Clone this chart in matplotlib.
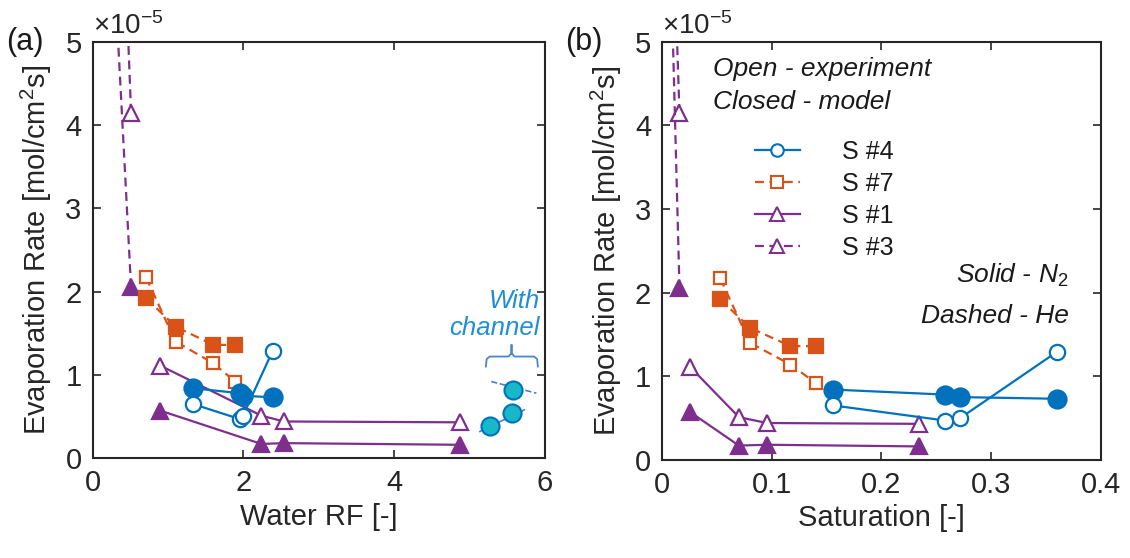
import numpy as np
import matplotlib.pyplot as plt
from matplotlib.lines import Line2D

plt.rcParams['font.family'] = ['Liberation Sans', 'DejaVu Sans']
plt.rcParams['mathtext.fontset'] = 'custom'
plt.rcParams['mathtext.rm'] = 'Liberation Sans'
plt.rcParams['mathtext.it'] = 'Liberation Sans:italic'

# sample data: y values are shared by both panels (x1e-5 mol/cm2s)
s4_exp_y = [0.65, 0.47, 0.50, 1.29]
s4_mod_y = [0.84, 0.78, 0.75, 0.73]
s7_exp_y = [2.17, 1.40, 1.14, 0.92]
s7_mod_y = [1.92, 1.58, 1.36, 1.36]
s1_exp_y = [1.11, 0.51, 0.44, 0.43]
s1_mod_y = [0.57, 0.17, 0.18, 0.16]
s3_exp_y = [4.15, 6.0]
s3_mod_y = [2.05, 6.0]

# water RF (panel a)
s4_rf = [1.33, 1.95, 1.99, 2.39]
s7_rf = [0.71, 1.10, 1.60, 1.89]
s1_rf = [0.90, 2.24, 2.54, 4.88]
s3_exp_rf = [0.51, 0.43]
s3_mod_rf = [0.51, 0.28]

# saturation (panel b)
s4_sat = [0.156, 0.258, 0.272, 0.360]
s7_sat = [0.053, 0.080, 0.117, 0.140]
s1_sat = [0.0256, 0.070, 0.0956, 0.234]
s3_exp_sat = [0.0158, 0.011]
s3_mod_sat = [0.0158, 0.0078]

# with channel points (panel a)
ch_x = [5.27, 5.56, 5.58]
ch_y = [0.38, 0.54, 0.82]
ch_solid_x = [5.14, 5.73]
ch_solid_y = [0.32, 0.58]
ch_dash_x = [5.29, 5.89]
ch_dash_y = [0.92, 0.78]

blue = '#0072BD'
orange = '#D95319'
purple = '#7E2F8E'
cyan = '#19B8C8'
axcol = '#262626'

fig = plt.figure(figsize=(11.3, 5.58), dpi=100)
ax1 = fig.add_axes([0.082, 0.179, 0.400, 0.746])
ax2 = fig.add_axes([0.586, 0.176, 0.388, 0.749])

lw = 1.6
dash = (4, 2.5)


def draw(ax, x4, x7, x1, x3e, x3m):
    ax.plot(x3e, s3_exp_y, '--^', color=purple, mfc='white', ms=11, mew=1.6, lw=lw, dashes=dash)
    ax.plot(x3m, s3_mod_y, '--^', color=purple, mfc=purple, ms=12, mew=1.6, lw=lw, dashes=dash)
    ax.plot(x1, s1_exp_y, '-^', color=purple, mfc='white', ms=11, mew=1.6, lw=lw)
    ax.plot(x1, s1_mod_y, '-^', color=purple, mfc=purple, ms=12, mew=1.6, lw=lw)
    ax.plot(x7, s7_exp_y, '--s', color=orange, mfc='white', ms=9, mew=1.6, lw=lw, dashes=dash)
    ax.plot(x7, s7_mod_y, '--s', color=orange, mfc=orange, ms=10, mew=1.6, lw=lw, dashes=dash)
    ax.plot(x4, s4_mod_y, '-o', color=blue, mfc=blue, ms=13, mew=1.6, lw=lw)
    ax.plot(x4, s4_exp_y, '-o', color=blue, mfc='white', ms=11, mew=1.6, lw=lw)
    ax.set_ylim(0, 5)
    ax.set_yticks([0, 1, 2, 3, 4, 5])
    ax.tick_params(direction='in', top=True, right=True, length=6, width=1.2,
                   labelsize=21, colors=axcol, pad=8)
    for sp in ax.spines.values():
        sp.set_linewidth(1.5)
        sp.set_color(axcol)
    ax.set_ylabel('Evaporation Rate [mol/cm$^2$s]', fontsize=21, color=axcol, labelpad=8)
    ax.text(0.0, 1.005, r'$\times$10$^{-5}$', transform=ax.transAxes,
            fontsize=20, color=axcol, ha='left', va='bottom')


draw(ax1, s4_rf, s7_rf, s1_rf, s3_exp_rf, s3_mod_rf)
draw(ax2, s4_sat, s7_sat, s1_sat, s3_exp_sat, s3_mod_sat)

# panel a extras
ax1.set_xlim(0, 6)
ax1.set_xticks([0, 2, 4, 6])
ax1.set_xlabel('Water RF [-]', fontsize=21, color=axcol)
ax1.plot(ch_solid_x, ch_solid_y, '-', color='#4A7FD0', lw=1.2)
ax1.plot(ch_dash_x, ch_dash_y, '--', color='#4A7FD0', lw=1.2)
ax1.plot(ch_x, ch_y, 'o', color=blue, mfc=cyan, ms=13, mew=1.5, ls='none')
brx = [5.22, 5.23, 5.27, 5.52, 5.56, 5.56, 5.56, 5.60, 5.86, 5.90, 5.91]
bry = [1.10, 1.19, 1.22, 1.22, 1.26, 1.36, 1.26, 1.22, 1.22, 1.19, 1.10]
ax1.plot(brx, bry, '-', color='#4A86C8', lw=1.3)
ax1.text(5.94, 1.73, 'With\nchannel', fontsize=18.5, style='italic', color='#1E8FD5',
         ha='right', va='center', ma='right', linespacing=1.15)

# panel b extras
ax2.set_xlim(0, 0.4)
ax2.set_xticks([0, 0.1, 0.2, 0.3, 0.4])
ax2.set_xticklabels(['0', '0.1', '0.2', '0.3', '0.4'])
ax2.set_xlabel('Saturation [-]', fontsize=21, color=axcol)
ax2.text(0.0465, 4.68, 'Open - experiment', fontsize=19, style='italic', color='#1a1a1a',
         ha='left', va='center')
ax2.text(0.0465, 4.28, 'Closed - model', fontsize=19, style='italic', color='#1a1a1a',
         ha='left', va='center')
ax2.text(0.371, 2.20, 'Solid - N$_2$', fontsize=19, style='italic', color='#1a1a1a',
         ha='right', va='center')
ax2.text(0.371, 1.72, 'Dashed - He', fontsize=19, style='italic', color='#1a1a1a',
         ha='right', va='center')

handles = [
    Line2D([], [], color=blue, ls='-', marker='o', mfc='white', ms=9, mew=1.5, lw=lw),
    Line2D([], [], color=orange, ls='--', marker='s', mfc='white', ms=8, mew=1.5, lw=lw, dashes=dash),
    Line2D([], [], color=purple, ls='-', marker='^', mfc='white', ms=10, mew=1.5, lw=lw),
    Line2D([], [], color=purple, ls='--', marker='^', mfc='white', ms=10, mew=1.5, lw=lw, dashes=dash),
]
labels = ['S #4', 'S #7', 'S #1', 'S #3']
ax2.legend(handles, labels, loc='upper left', bbox_to_anchor=(0.16, 0.82), frameon=False,
           fontsize=18, handlelength=1.8, handletextpad=1.7, labelspacing=0.32,
           labelcolor='#1a1a1a')

fig.text(0.005, 0.925, '(a)', fontsize=22, color='#1a1a1a', va='center')
fig.text(0.500, 0.925, '(b)', fontsize=22, color='#1a1a1a', va='center')

fig.savefig('out.png', dpi=100)
